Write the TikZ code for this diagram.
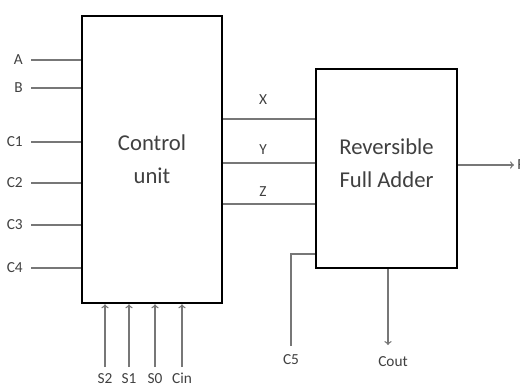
\documentclass[tikz,border=0pt]{standalone}
\usepackage{fontspec}
\setmainfont{Carlito}
\usetikzlibrary{positioning}

\definecolor{wiregray}{HTML}{777777}
\definecolor{textgray}{HTML}{404040}

\tikzset{
    block/.style={draw=black, line width=2pt, fill=white, inner sep=0pt},
    bigtext/.style={text=textgray, font=\fontsize{17}{25}\selectfont, align=center},
    wire/.style={draw=wiregray, line width=1pt},
    lbl/.style={text=textgray, font=\fontsize{11.5}{13}\selectfont, inner sep=0pt},
}

\begin{document}
\begin{tikzpicture}[x=0.75pt, y=-0.75pt, >=To]
    \useasboundingbox (0,0) rectangle (520,387);

    % Control unit and adder blocks
    \node[block, minimum width=105pt, minimum height=215.25pt] (cu) at (152,159.5) {};
    \node[bigtext] (cutext) at (cu.center) {Control\\unit};
    \node[block, minimum width=105.75pt, minimum height=149.25pt] (rfa) at (386.5,168.5) {};
    \node[bigtext] (rfatext) at (386.5,163) {Reversible\\Full Adder};

    % Inputs on the left
    \foreach \name/\y in {A/60, B/88, C1/142, C2/183, C3/225, C4/268} {
        \node[lbl, anchor=east, inner xsep=6pt] (in\name) at (31,\y) {\name};
        \draw[wire] (in\name.east) -- (in\name.east -| cu.west);
    }

    % Select lines and carry in
    \foreach \name/\x in {S2/105, S1/129, S0/155, Cin/182} {
        \node[lbl, anchor=north, inner ysep=4pt, text height=8pt] (sel\name) at (\x,367) {\name};
        \draw[wire, ->] (sel\name.north) -- (sel\name.north |- cu.south);
    }

    % X, Y, Z between the blocks
    \foreach \name/\y/\ly in {X/119/100, Y/163/150, Z/204/192} {
        \draw[wire] (cu.east |- 0,\y) -- (rfa.west |- 0,\y);
        \node[lbl] (lbl\name) at (263,\ly) {\name};
    }

    % C5 input
    \node[lbl, anchor=north, inner ysep=6pt] (cfive) at (291,346) {C5};
    \coordinate (cfivebend) at (291,254);
    \draw[wire] (cfive.north) -- (cfivebend) -- (cfivebend -| rfa.west);

    % Carry out
    \node[lbl, anchor=north] (cout) at (393,356) {Cout};
    \coordinate (couttip) at (388,345);
    \draw[wire, ->] (rfa.south -| couttip) -- (couttip);

    % Result
    \node[lbl, anchor=west] (res) at (517,165) {R};
    \coordinate (restip) at (514,165);
    \draw[wire, ->] (rfa.east |- restip) -- (restip);
\end{tikzpicture}
\end{document}
